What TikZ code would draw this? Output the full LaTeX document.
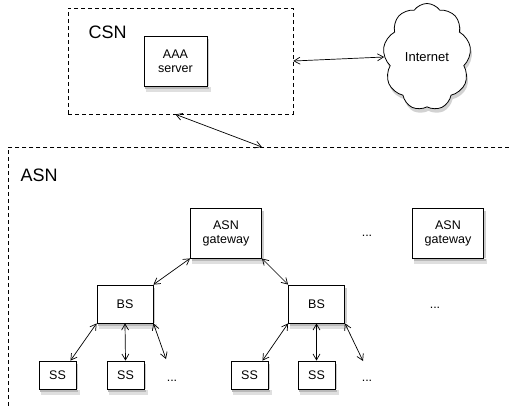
\documentclass[tikz,border=0pt]{standalone}
\usepackage{fontspec}
\setmainfont{Liberation Sans}
\usetikzlibrary{arrows.meta,positioning,shapes.symbols,calc}

\begin{document}
\begin{tikzpicture}[
  x=1pt, y=-1pt,
  zone/.style={draw, dashed, line width=0.7pt, dash pattern=on 4pt off 3pt},
  box/.style={draw, line width=0.8pt, fill=white, font=\fontsize{12.5}{14}\selectfont, align=center},
  ss/.style={box, minimum width=37pt, minimum height=28pt, inner sep=0pt},
  bs/.style={box, minimum width=56pt, minimum height=38pt, inner sep=0pt},
  gw/.style={box, minimum width=71pt, minimum height=50pt, inner sep=0pt},
  puff/.style={cloud, cloud puffs=9, cloud puff arc=110, aspect=0.8, minimum width=88pt,
    minimum height=107pt, inner sep=0pt, font=\fontsize{13}{14}\selectfont},
  dots/.style={font=\fontsize{12.5}{14}\selectfont},
  ar/.style={{Straight Barb[length=6pt,width=7pt]}-{Straight Barb[length=6pt,width=7pt]}, line width=0.7pt}
]
\useasboundingbox (0,0) rectangle (509,405);

% cloud shadow first, so the cloud covers it
\node[puff, fill=gray!35, draw=none] (inetsh) at (428.5,61) {\phantom{Internet}};

% core network
\node[zone, minimum width=225pt, minimum height=106pt] (csn) at (180.5,61) {};
\node[anchor=west, font=\fontsize{18}{20}\selectfont] (csnlbl) at (85,32) {CSN};
\node[box, minimum width=63pt, minimum height=50pt, inner sep=0pt] (aaa) at (175.5,61) {AAA\\server};
\node[puff, draw, line width=0.8pt, fill=white] (inet) at (427,57) {Internet};

% access network
\node[zone, anchor=north west, minimum width=520pt, minimum height=280pt] (asn) at (8,147) {};
\node[anchor=west, font=\fontsize{18}{20}\selectfont] (asnlbl) at (17,175) {ASN};

\node[gw] (gw1) at (226,233) {ASN\\gateway};
\node[gw] (gw2) at (448,233) {ASN\\gateway};
\node[dots] (d1) at (367,236) {...};

\node[bs] (bs1) at (125,304) {BS};
\node[bs] (bs2) at (316.5,304) {BS};
\node[dots] (d2) at (435,308) {...};

\node[ss] (ss1) at (57.5,375) {SS};
\node[ss] (ss2) at (125.5,375) {SS};
\node[dots] (d3) at (172,381) {...};
\node[ss] (ss3) at (249.5,375) {SS};
\node[ss] (ss4) at (316.5,375) {SS};
\node[dots] (d4) at (367,381) {...};

\coordinate (e1) at (166,359);
\coordinate (e2) at (363,361);

% shadow strips along the lower and right edges of the boxes
\foreach \n in {aaa,gw1,gw2,bs1,bs2,ss1,ss2,ss3,ss4} {
  \fill[gray!25] ($(\n.south west)+(2,0.4)$) rectangle ($(\n.south east)+(3.5,6)$);
  \fill[gray!55] ($(\n.south west)+(1.5,0.4)$) rectangle ($(\n.south east)+(2,3)$);
  \fill[gray!40] ($(\n.north east)+(0.4,3)$) rectangle ($(\n.south east)+(2,0)$);
}

% links
\draw[ar] (csn.east) -- (inet.west);
\draw[ar] (aaa |- csn.south) -- (gw1.east |- asn.north);
\draw[ar] (gw1.south west) -- (bs1.north east);
\draw[ar] (gw1.south east) -- (bs2.north west);
\draw[ar] (bs1.south west) -- (ss1.48);
\draw[ar] (bs1.south) -- (ss2.north);
\draw[ar] (bs1.south east) -- (e1);
\draw[ar] (bs2.south west) -- (ss3.48);
\draw[ar] (bs2.south) -- (ss4.north);
\draw[ar] (bs2.south east) -- (e2);
\end{tikzpicture}
\end{document}
